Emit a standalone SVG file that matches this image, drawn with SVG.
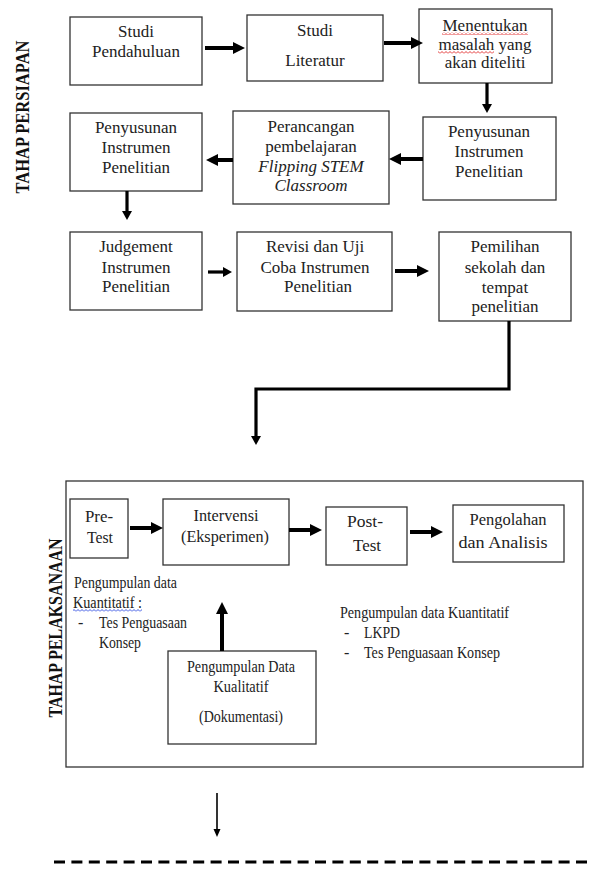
<svg xmlns="http://www.w3.org/2000/svg" width="589" height="869" viewBox="0 0 589 869">
<style>
  .box { fill: #fff; stroke: #333; stroke-width: 1.3; }
  .t { font-family: "Liberation Serif", serif; font-size: 17px; fill: #222; text-anchor: middle; }
  .s { font-family: "Times New Roman", "Liberation Serif", serif; font-size: 16px; fill: #222; }
  .sm { text-anchor: middle; }
  .lab { font-family: serif; font-weight: bold; fill: #111; text-anchor: middle; }
  .arr { fill: none; stroke: #000; stroke-width: 4; marker-end: url(#ah); }
  .arr3 { fill: none; stroke: #000; stroke-width: 3.2; marker-end: url(#ah2); }
  .thin { fill: none; stroke: #000; stroke-width: 1.6; marker-end: url(#ah3); }
</style>
<defs>
  <marker id="ah" markerUnits="userSpaceOnUse" markerWidth="12" markerHeight="12" refX="4" refY="6" orient="auto">
    <path d="M0,0 L12,6 L0,12 z" fill="#000"/>
  </marker>
  <marker id="ah2" markerUnits="userSpaceOnUse" markerWidth="10" markerHeight="10" refX="3" refY="5" orient="auto">
    <path d="M0,0 L9,5 L0,10 z" fill="#000"/>
  </marker>
  <marker id="ah3" markerUnits="userSpaceOnUse" markerWidth="9" markerHeight="8" refX="3" refY="3.5" orient="auto">
    <path d="M0,0 L8,3.5 L0,7 z" fill="#000"/>
  </marker>
  <pattern id="wavyR" width="4" height="3" patternUnits="userSpaceOnUse">
    <path d="M0,2.5 L2,0.5 L4,2.5" fill="none" stroke="#e02020" stroke-width="0.9"/>
  </pattern>
  <pattern id="wavyB" width="4" height="3" patternUnits="userSpaceOnUse">
    <path d="M0,2.5 L2,0.5 L4,2.5" fill="none" stroke="#2040e0" stroke-width="0.9"/>
  </pattern>
</defs>

<g id="label-persiapan">
  <text class="lab" font-size="19" textLength="153" lengthAdjust="spacingAndGlyphs" transform="translate(29,117) rotate(-90)">TAHAP PERSIAPAN</text>
</g>
<g id="label-pelaksanaan">
  <text class="lab" font-size="18" textLength="179" lengthAdjust="spacingAndGlyphs" transform="translate(62,628) rotate(-90)">TAHAP PELAKSANAAN</text>
</g>

<g id="studi-pendahuluan">
  <rect class="box" x="70" y="17" width="132" height="68"/>
  <text class="t" x="136" y="37">Studi</text>
  <text class="t" x="136" y="57">Pendahuluan</text>
</g>
<g id="studi-literatur">
  <rect class="box" x="247" y="15" width="136" height="66"/>
  <text class="t" x="315" y="36">Studi</text>
  <text class="t" x="315" y="66">Literatur</text>
</g>
<g id="menentukan">
  <rect class="box" x="419" y="9" width="133" height="74"/>
  <text class="t" x="485" y="31">Menentukan</text>
  <text class="t" x="485" y="50">masalah yang</text>
  <text class="t" x="485" y="68">akan diteliti</text>
  <rect x="442" y="32" width="86" height="3" fill="url(#wavyR)"/>
  <rect x="438" y="51" width="56" height="3" fill="url(#wavyR)"/>
</g>
<g id="penyusunan-kanan">
  <rect class="box" x="423" y="117" width="133" height="83"/>
  <text class="t" x="489" y="137">Penyusunan</text>
  <text class="t" x="489" y="157">Instrumen</text>
  <text class="t" x="489" y="177">Penelitian</text>
</g>
<g id="perancangan">
  <rect class="box" x="233" y="111" width="156" height="93"/>
  <text class="t" x="311" y="132">Perancangan</text>
  <text class="t" x="311" y="152">pembelajaran</text>
  <text class="t" x="311" y="172" font-style="italic">Flipping STEM</text>
  <text class="t" x="311" y="191" font-style="italic">Classroom</text>
</g>
<g id="penyusunan-kiri">
  <rect class="box" x="70" y="113" width="132" height="78"/>
  <text class="t" x="136" y="133">Penyusunan</text>
  <text class="t" x="136" y="153">Instrumen</text>
  <text class="t" x="136" y="173">Penelitian</text>
</g>
<g id="judgement">
  <rect class="box" x="70" y="232" width="132" height="78"/>
  <text class="t" x="136" y="252">Judgement</text>
  <text class="t" x="136" y="273">Instrumen</text>
  <text class="t" x="136" y="292">Penelitian</text>
</g>
<g id="revisi">
  <rect class="box" x="237" y="232" width="155" height="79"/>
  <text class="t" x="315" y="252">Revisi dan Uji</text>
  <text class="t" x="315" y="273">Coba Instrumen</text>
  <text class="t" x="318" y="292">Penelitian</text>
</g>
<g id="pemilihan">
  <rect class="box" x="439" y="232" width="132" height="89"/>
  <text class="t" x="505" y="252">Pemilihan</text>
  <text class="t" x="505" y="273">sekolah dan</text>
  <text class="t" x="505" y="293">tempat</text>
  <text class="t" x="505" y="312">penelitian</text>
</g>

<g id="pelaksanaan-frame">
  <rect class="box" x="66" y="481" width="517" height="286"/>
</g>
<g id="pre-test">
  <rect class="box" x="70" y="499" width="58" height="59"/>
  <text class="s sm" x="99" y="522" textLength="28" lengthAdjust="spacingAndGlyphs">Pre-</text>
  <text class="s sm" x="100" y="543" textLength="26" lengthAdjust="spacingAndGlyphs">Test</text>
</g>
<g id="intervensi">
  <rect class="box" x="163" y="499" width="126" height="66"/>
  <text class="s sm" x="226" y="521" textLength="65" lengthAdjust="spacingAndGlyphs">Intervensi</text>
  <text class="s sm" x="225" y="542" textLength="88" lengthAdjust="spacingAndGlyphs">(Eksperimen)</text>
</g>
<g id="post-test">
  <rect class="box" x="326" y="507" width="81" height="58"/>
  <text class="s sm" x="365" y="527" textLength="36" lengthAdjust="spacingAndGlyphs">Post-</text>
  <text class="s sm" x="367" y="551" textLength="28" lengthAdjust="spacingAndGlyphs">Test</text>
</g>
<g id="pengolahan">
  <rect class="box" x="453" y="505" width="111" height="57"/>
  <text class="s sm" x="508" y="525" textLength="77" lengthAdjust="spacingAndGlyphs">Pengolahan</text>
  <text class="s sm" x="503" y="548" textLength="89" lengthAdjust="spacingAndGlyphs">dan Analisis</text>
</g>
<g id="kuantitatif-kiri">
  <text class="s" x="74" y="588" textLength="103" lengthAdjust="spacingAndGlyphs">Pengumpulan data</text>
  <text class="s" x="73" y="608" textLength="69" lengthAdjust="spacingAndGlyphs">Kuantitatif :</text>
  <rect x="73" y="609" width="69" height="3" fill="url(#wavyB)"/>
  <text class="s" x="78" y="628">-</text>
  <text class="s" x="99" y="628" textLength="88" lengthAdjust="spacingAndGlyphs">Tes Penguasaan</text>
  <text class="s" x="99" y="648" textLength="42" lengthAdjust="spacingAndGlyphs">Konsep</text>
</g>
<g id="kualitatif">
  <rect class="box" x="168" y="651" width="148" height="93"/>
  <text class="s sm" x="241" y="672" textLength="108" lengthAdjust="spacingAndGlyphs">Pengumpulan Data</text>
  <text class="s sm" x="241" y="692" textLength="55" lengthAdjust="spacingAndGlyphs">Kualitatif</text>
  <text class="s sm" x="241" y="722" textLength="84" lengthAdjust="spacingAndGlyphs">(Dokumentasi)</text>
</g>
<g id="kuantitatif-kanan">
  <text class="s" x="340" y="618" textLength="169" lengthAdjust="spacingAndGlyphs">Pengumpulan data Kuantitatif</text>
  <text class="s" x="344" y="638">-</text>
  <text class="s" x="364" y="638" textLength="36" lengthAdjust="spacingAndGlyphs">LKPD</text>
  <text class="s" x="344" y="658">-</text>
  <text class="s" x="364" y="658" textLength="136" lengthAdjust="spacingAndGlyphs">Tes Penguasaan Konsep</text>
</g>

<g id="connectors">
  <line class="arr" x1="205" y1="48" x2="237" y2="48"/>
  <line class="arr" x1="384" y1="43" x2="415" y2="43"/>
  <line class="arr3" x1="487" y1="83" x2="487" y2="107"/>
  <line class="arr" x1="423" y1="159" x2="397" y2="159"/>
  <line class="arr" x1="233" y1="160" x2="214" y2="160"/>
  <line class="arr3" x1="127" y1="191" x2="127" y2="214"/>
  <line class="arr3" x1="208" y1="272" x2="226" y2="272"/>
  <line class="arr" x1="395" y1="271" x2="421" y2="271"/>
  <polyline class="arr3" points="509,321 509,389 256,389 256,439"/>
  <line class="arr" x1="130" y1="528" x2="155" y2="528"/>
  <line class="arr" x1="289" y1="530" x2="314" y2="530"/>
  <line class="arr" x1="410" y1="532" x2="435" y2="532"/>
  <line class="arr" x1="222" y1="651" x2="222" y2="610"/>
  <line class="thin" x1="217" y1="793" x2="217" y2="832"/>
  <line x1="54" y1="862" x2="589" y2="862" stroke="#000" stroke-width="3" stroke-dasharray="11 6.4"/>
</g>
</svg>
